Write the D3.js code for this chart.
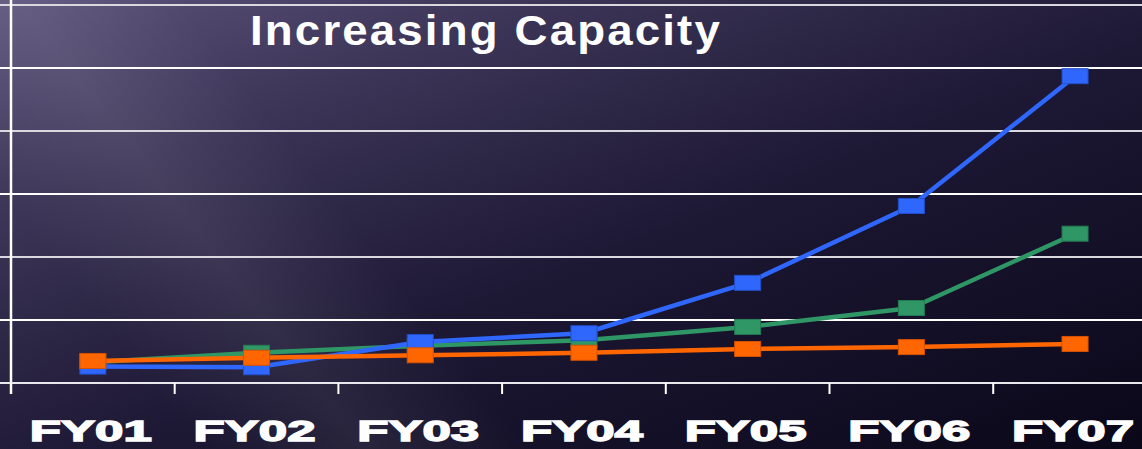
<!DOCTYPE html>
<html>
<head>
<meta charset="utf-8">
<script src="https://cdn.jsdelivr.net/npm/d3@7"></script>
<style>
  body { margin: 0; background: #0d0a1e; }
  svg { display: block; }
</style>
</head>
<body>
<div id="graph"></div>
<script>
// categories and series (grid step = 100)
var years = ["FY01", "FY02", "FY03", "FY04", "FY05", "FY06", "FY07"];
var blueValues   = [26, 25, 65, 79, 159, 281, 487];
var greenValues  = [33, 48, 59, 68, 89, 119, 237];
var orangeValues = [35, 40, 44, 48, 54, 57, 62];
var yTicks = [0, 100, 200, 300, 400, 500, 600];
var titleText = "Increasing Capacity";

var width = 1142, height = 449;
var plotLeft = 11, plotTop = 5, plotBottom = 383, bandW = 163.7;

var svg = d3.select("#graph").append("svg")
    .attr("width", width)
    .attr("height", height);

// background
var defs = svg.append("defs");
var bg = defs.append("linearGradient")
    .attr("id", "bg")
    .attr("x1", "0").attr("y1", "0")
    .attr("x2", "1").attr("y2", "1");
bg.append("stop").attr("offset", "0%").attr("stop-color", "#5c547b");
bg.append("stop").attr("offset", "25%").attr("stop-color", "#3b3456");
bg.append("stop").attr("offset", "55%").attr("stop-color", "#1d1834");
bg.append("stop").attr("offset", "100%").attr("stop-color", "#0a0719");

var streak = defs.append("linearGradient")
    .attr("id", "streak")
    .attr("x1", "0").attr("y1", "0")
    .attr("x2", "1").attr("y2", "0");
streak.append("stop").attr("offset", "0%").attr("stop-color", "#fff").attr("stop-opacity", 0);
streak.append("stop").attr("offset", "50%").attr("stop-color", "#fff").attr("stop-opacity", 0.07);
streak.append("stop").attr("offset", "100%").attr("stop-color", "#fff").attr("stop-opacity", 0);

svg.append("rect")
    .attr("width", width)
    .attr("height", height)
    .attr("fill", "url(#bg)");

// faint diagonal light streak
svg.append("rect")
    .attr("x", 80).attr("y", -200)
    .attr("width", 260).attr("height", 900)
    .attr("transform", "rotate(-38 210 250)")
    .attr("fill", "url(#streak)");

// scales
var x = d3.scaleBand()
    .domain(years)
    .range([plotLeft, plotLeft + bandW * years.length])
    .padding(0);

var y = d3.scaleLinear()
    .domain([0, 600])
    .range([plotBottom, plotTop]);

// gridlines
svg.append("g")
    .selectAll("line")
    .data(yTicks.slice(1))
  .enter().append("line")
    .attr("x1", 0)
    .attr("x2", width)
    .attr("y1", function(d) { return y(d); })
    .attr("y2", function(d) { return y(d); })
    .style("stroke", function(d, i) { return i % 2 ? "#d8d8de" : "#ffffff"; })
    .style("stroke-width", 1.8);

// y axis line
svg.append("line")
    .attr("x1", plotLeft).attr("x2", plotLeft)
    .attr("y1", 0).attr("y2", plotBottom + 11)
    .style("stroke", "#fff")
    .style("stroke-width", 2.5);

// x axis line + ticks at band edges
svg.append("line")
    .attr("x1", 0).attr("x2", width)
    .attr("y1", y(0)).attr("y2", y(0))
    .style("stroke", "#e8e8ee")
    .style("stroke-width", 2);

svg.append("g")
    .selectAll("line")
    .data(years)
  .enter().append("line")
    .attr("x1", function(d) { return x(d); })
    .attr("x2", function(d) { return x(d); })
    .attr("y1", y(0))
    .attr("y2", y(0) + 11)
    .style("stroke", "#fff")
    .style("stroke-width", 2);

// x labels
svg.append("g")
    .selectAll("text")
    .data(years)
  .enter().append("text")
    .attr("x", function(d) { return x(d) + bandW / 2 - 2; })
    .attr("y", 441)
    .attr("text-anchor", "middle")
    .attr("textLength", 122)
    .attr("lengthAdjust", "spacingAndGlyphs")
    .style("font-family", "'Liberation Sans', Arial, sans-serif")
    .style("font-weight", "bold")
    .style("font-size", "30px")
    .style("fill", "#fff")
    .style("stroke", "#fff")
    .style("stroke-width", 1.4)
    .text(function(d) { return d; });

// title
svg.append("text")
    .attr("x", 486)
    .attr("y", 45)
    .attr("text-anchor", "middle")
    .attr("textLength", 472)
    .attr("lengthAdjust", "spacingAndGlyphs")
    .style("letter-spacing", "2px")
    .style("font-family", "'Liberation Sans', Arial, sans-serif")
    .style("font-weight", "bold")
    .style("font-size", "42px")
    .style("fill", "#fff")
    .text(titleText);

// series
var series = [
  {name: "green", values: greenValues, color: "#2f9765", edge: "#257a52"},
  {name: "blue", values: blueValues, color: "#2f66fb", edge: "#2250cc"},
  {name: "orange", values: orangeValues, color: "#ff6600", edge: "#d65200"}
];

var valueline = d3.line()
    .x(function(d, i) { return x(years[i]) + bandW / 2; })
    .y(function(d) { return y(d); });

series.forEach(function(s) {
  var g = svg.append("g").attr("class", "series-" + s.name);

  g.append("path")
      .datum(s.values)
      .attr("d", valueline)
      .style("fill", "none")
      .style("stroke", s.color)
      .style("stroke-width", 4.5)
      .style("stroke-linejoin", "round");

  g.selectAll("rect")
      .data(s.values)
    .enter().append("rect")
      .attr("x", function(d, i) { return x(years[i]) + bandW / 2 - 13; })
      .attr("y", function(d) { return y(d) - 7.5; })
      .attr("width", 26)
      .attr("height", 15)
      .style("fill", s.color)
      .style("stroke", s.edge)
      .style("stroke-width", 1);
});
</script>
</body>
</html>
